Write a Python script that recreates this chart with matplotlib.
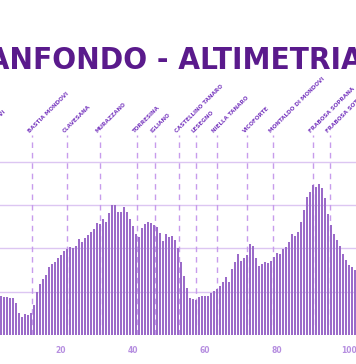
import numpy as np
import matplotlib.pyplot as plt
from matplotlib import font_manager
from matplotlib.font_manager import FontProperties

# altimetria (m), un campione ogni ~0.83 km
quota = [225, 219, 219, 213, 213, 185, 127, 104, 121, 115, 127, 173, 248, 294, 323,
         346, 392, 410, 421, 444, 462, 485, 496, 508, 502, 514, 554, 537, 560, 577,
         594, 612, 646, 641, 669, 652, 704, 750, 750, 710, 710, 739, 710, 669, 629,
         583, 565, 617, 641, 652, 646, 635, 623, 589, 542, 583, 565, 571, 548, 502,
         421, 340, 271, 213, 208, 202, 219, 225, 225, 225, 242, 254, 265, 283, 306,
         335, 306, 381, 421, 467, 427, 444, 462, 525, 514, 444, 398, 410, 421, 415,
         427, 450, 473, 467, 496, 508, 537, 583, 571, 594, 652, 721, 796, 825, 866,
         854, 871, 848, 790, 698, 635, 583, 548, 514, 467, 433, 404, 392, 375]
km = 3.42 + 0.833 * np.arange(len(quota))

localita = ["MONDOVI", "BASTIA MONDOVI", "CLAVESANA", "MURAZZANO", "TORRESINA", "IGLIANO",
            "CASTELLINO TANARO", "LESEGNO", "NIELLA TANARO", "VICOFORTE",
            "MONTALDO DI MONDOVI", "FRABOSA SOPRANA", "FRABOSA SOTTANA"]
km_localita = [-0.5, 12.1, 21.7, 30.9, 41.3, 46.1, 52.8, 57.6, 63.3, 71.7, 78.9, 90.0, 94.8]

xticks = [20, 40, 60, 80, 100]
griglia = [250, 500, 750, 1000]

# cerca un font bold stretto, altrimenti DejaVu
cond = None
for f in font_manager.fontManager.ttflist:
    nm = f.fname.replace(" ", "")
    if ("Condensed-Bold." in nm or "CondensedBold." in nm or "Narrow-Bold." in nm
            or "SansNarrow-Bold" in nm):
        cond = f.fname
        break
if cond:
    fp_title = FontProperties(fname=cond, size=22.5)
    fp_lab = FontProperties(fname=cond, size=4.5)
    fp_tick = FontProperties(fname=cond, size=6)
else:
    fp_title = FontProperties(family="DejaVu Sans", weight="bold", size=19)
    fp_lab = FontProperties(family="DejaVu Sans", weight="bold", size=4)
    fp_tick = FontProperties(family="DejaVu Sans", size=5.5)

fig = plt.figure(figsize=(3.56, 3.64), dpi=100)
ax = fig.add_axes([0, 0.0797, 1, 0.549])

for g in griglia:
    ax.axhline(g, color="#dcc6f2", lw=1, zorder=0)
ax.bar(km, quota, width=0.52, color="#9b6bc9", zorder=2)
ax.vlines(km_localita, 0, 1154, colors="#c79cec", linestyles=(0, (4, 3.5)), lw=1, zorder=1)

for nome, k in zip(localita, km_localita):
    ax.text(k - 0.4, 1160, nome, rotation=45, rotation_mode="anchor", ha="left", va="bottom",
            fontproperties=fp_lab, color="#7a3cc0", clip_on=False)

ax.set_xlim(3.14, 102.03)
ax.set_ylim(0, 1154)
ax.set_xticks(xticks)
ax.set_xticklabels([str(t) for t in xticks], fontproperties=fp_tick, color="#b68ee0")
ax.tick_params(axis="x", length=0, pad=8)
ax.set_yticks([])
for s in ax.spines.values():
    s.set_visible(False)

fig.text(1.018, 0.835, "GRANFONDO - ALTIMETRIA", ha="right", va="center",
         fontproperties=fp_title, color="#5a1a8c")

fig.savefig("out.png", dpi=100)
